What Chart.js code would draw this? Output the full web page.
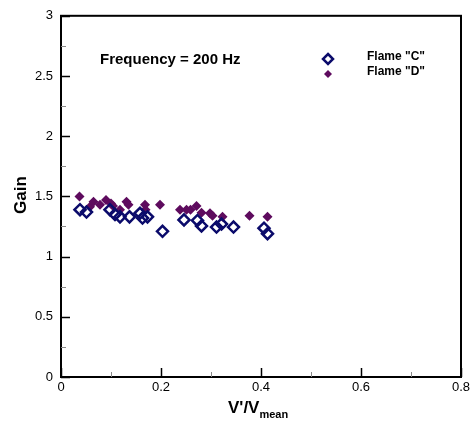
<!DOCTYPE html>
<html>
<head>
<meta charset="utf-8">
<script src="https://cdn.jsdelivr.net/npm/chart.js@4/dist/chart.umd.min.js"></script>
<style>
  html, body { margin: 0; padding: 0; background: #fff; }
  #wrap { width: 476px; height: 423px; }
</style>
</head>
<body>
<div id="wrap"><canvas id="gain_chart" width="476" height="423"></canvas></div>
<script>
// Flame "C" (open diamonds)
let flame_c_x = [0.038, 0.051, 0.098, 0.108, 0.118, 0.137, 0.158, 0.163, 0.173, 0.203, 0.246, 0.273, 0.281, 0.311, 0.321, 0.345, 0.406, 0.413];
let flame_c_y = [1.39, 1.37, 1.39, 1.35, 1.33, 1.33, 1.36, 1.32, 1.33, 1.21, 1.305, 1.30, 1.255, 1.245, 1.27, 1.245, 1.236, 1.19];

// Flame "D" (filled diamonds)
let flame_d_x = [0.037, 0.058, 0.065, 0.078, 0.090, 0.100, 0.104, 0.118, 0.131, 0.135, 0.168, 0.169, 0.198, 0.238, 0.251, 0.259, 0.271, 0.281, 0.298, 0.303, 0.323, 0.377, 0.413];
let flame_d_y = [1.50, 1.415, 1.456, 1.43, 1.47, 1.44, 1.42, 1.39, 1.456, 1.43, 1.43, 1.39, 1.43, 1.39, 1.39, 1.39, 1.42, 1.365, 1.36, 1.34, 1.33, 1.34, 1.33];

let x_ticks = [0, 0.2, 0.4, 0.6, 0.8];
let x_minor = [0.1, 0.3, 0.5, 0.7];
let y_ticks = [0, 0.5, 1, 1.5, 2, 2.5, 3];
let y_minor = [0.25, 0.75, 1.25, 1.75, 2.25, 2.75];

const navy = '#0b0b6b';
const plum = '#5e0b5e';
const font_family = '"Liberation Sans", Arial, sans-serif';

function toPoints(xs, ys) {
    return xs.map((x, i) => ({ x: x, y: ys[i] }));
}

// frame, inward ticks, axis titles, annotation and legend
const decorations = {
    id: 'decorations',
    afterDraw(chart) {
        const ctx = chart.ctx;
        const a = chart.chartArea;
        const xs = chart.scales.x;
        const ys = chart.scales.y;
        ctx.save();
        ctx.strokeStyle = '#000';
        ctx.lineWidth = 2;
        ctx.strokeRect(a.left, a.top, a.right - a.left, a.bottom - a.top);

        ctx.lineWidth = 1.5;
        for (const t of x_ticks) {
            const p = Math.round(xs.getPixelForValue(t)) + 0.5;
            ctx.beginPath(); ctx.moveTo(p, a.bottom); ctx.lineTo(p, a.bottom - 9); ctx.stroke();
        }
        for (const t of y_ticks) {
            const p = Math.round(ys.getPixelForValue(t)) + 0.5;
            ctx.beginPath(); ctx.moveTo(a.left, p); ctx.lineTo(a.left + 9, p); ctx.stroke();
        }
        ctx.strokeStyle = '#888';
        ctx.lineWidth = 1;
        for (const t of x_minor) {
            const p = Math.round(xs.getPixelForValue(t)) + 0.5;
            ctx.beginPath(); ctx.moveTo(p, a.bottom); ctx.lineTo(p, a.bottom - 5); ctx.stroke();
        }
        for (const t of y_minor) {
            const p = Math.round(ys.getPixelForValue(t)) + 0.5;
            ctx.beginPath(); ctx.moveTo(a.left, p); ctx.lineTo(a.left + 5, p); ctx.stroke();
        }

        ctx.fillStyle = '#000';
        // y title
        ctx.font = 'bold 17px ' + font_family;
        ctx.textAlign = 'center';
        ctx.textBaseline = 'middle';
        ctx.save();
        ctx.translate(21, 195);
        ctx.rotate(-Math.PI / 2);
        ctx.fillText('Gain', 0, 0);
        ctx.restore();

        // x title with subscript
        ctx.textAlign = 'left';
        ctx.textBaseline = 'alphabetic';
        ctx.font = 'bold 17px ' + font_family;
        const main = "V'/V";
        const w1 = ctx.measureText(main).width;
        const x0 = 228;
        ctx.fillText(main, x0, 413);
        ctx.font = 'bold 11px ' + font_family;
        ctx.fillText('mean', x0 + w1, 418);

        // annotation
        ctx.font = 'bold 15px ' + font_family;
        ctx.textBaseline = 'middle';
        ctx.fillText('Frequency = 200 Hz', 100, 60);

        // legend
        ctx.font = 'bold 12px ' + font_family;
        ctx.fillText('Flame "C"', 367, 57);
        ctx.fillText('Flame "D"', 367, 72);
        ctx.strokeStyle = navy;
        ctx.lineWidth = 2.5;
        ctx.beginPath();
        ctx.moveTo(328, 54); ctx.lineTo(333, 59); ctx.lineTo(328, 64); ctx.lineTo(323, 59); ctx.closePath();
        ctx.stroke();
        ctx.fillStyle = plum;
        ctx.beginPath();
        ctx.moveTo(328, 70); ctx.lineTo(332, 74); ctx.lineTo(328, 78); ctx.lineTo(324, 74); ctx.closePath();
        ctx.fill();
        ctx.restore();
    }
};

var ctx = document.getElementById('gain_chart').getContext('2d');
var chart = new Chart(ctx, {
    type: 'scatter',
    data: {
        datasets: [{
            label: 'Flame "C"',
            data: toPoints(flame_c_x, flame_c_y),
            pointStyle: 'rectRot',
            pointRadius: 5.5,
            borderColor: navy,
            backgroundColor: 'rgba(255,255,255,0)',
            pointBorderWidth: 2.5
        }, {
            label: 'Flame "D"',
            data: toPoints(flame_d_x, flame_d_y),
            pointStyle: 'rectRot',
            pointRadius: 5,
            borderColor: plum,
            backgroundColor: plum,
            pointBorderWidth: 0
        }]
    },
    options: {
        responsive: false,
        animation: false,
        layout: { padding: { left: 0, right: 15, top: 13, bottom: 0 } },
        plugins: {
            legend: { display: false },
            tooltip: { enabled: false }
        },
        scales: {
            x: {
                type: 'linear',
                min: 0,
                max: 0.8,
                afterFit: s => { s.height = 46; },
                afterBuildTicks: s => { s.ticks = x_ticks.map(v => ({ value: v })); },
                grid: { display: false, drawTicks: false },
                border: { display: false },
                ticks: {
                    color: '#000',
                    padding: 3,
                    font: { family: font_family, size: 13 },
                    callback: v => String(v)
                }
            },
            y: {
                type: 'linear',
                min: 0,
                max: 3,
                afterFit: s => { s.width = 61; },
                afterBuildTicks: s => { s.ticks = y_ticks.map(v => ({ value: v })); },
                grid: { display: false, drawTicks: false },
                border: { display: false },
                ticks: {
                    color: '#000',
                    padding: 8,
                    font: { family: font_family, size: 13 },
                    callback: v => String(v)
                }
            }
        }
    },
    plugins: [decorations]
});
</script>
</body>
</html>
